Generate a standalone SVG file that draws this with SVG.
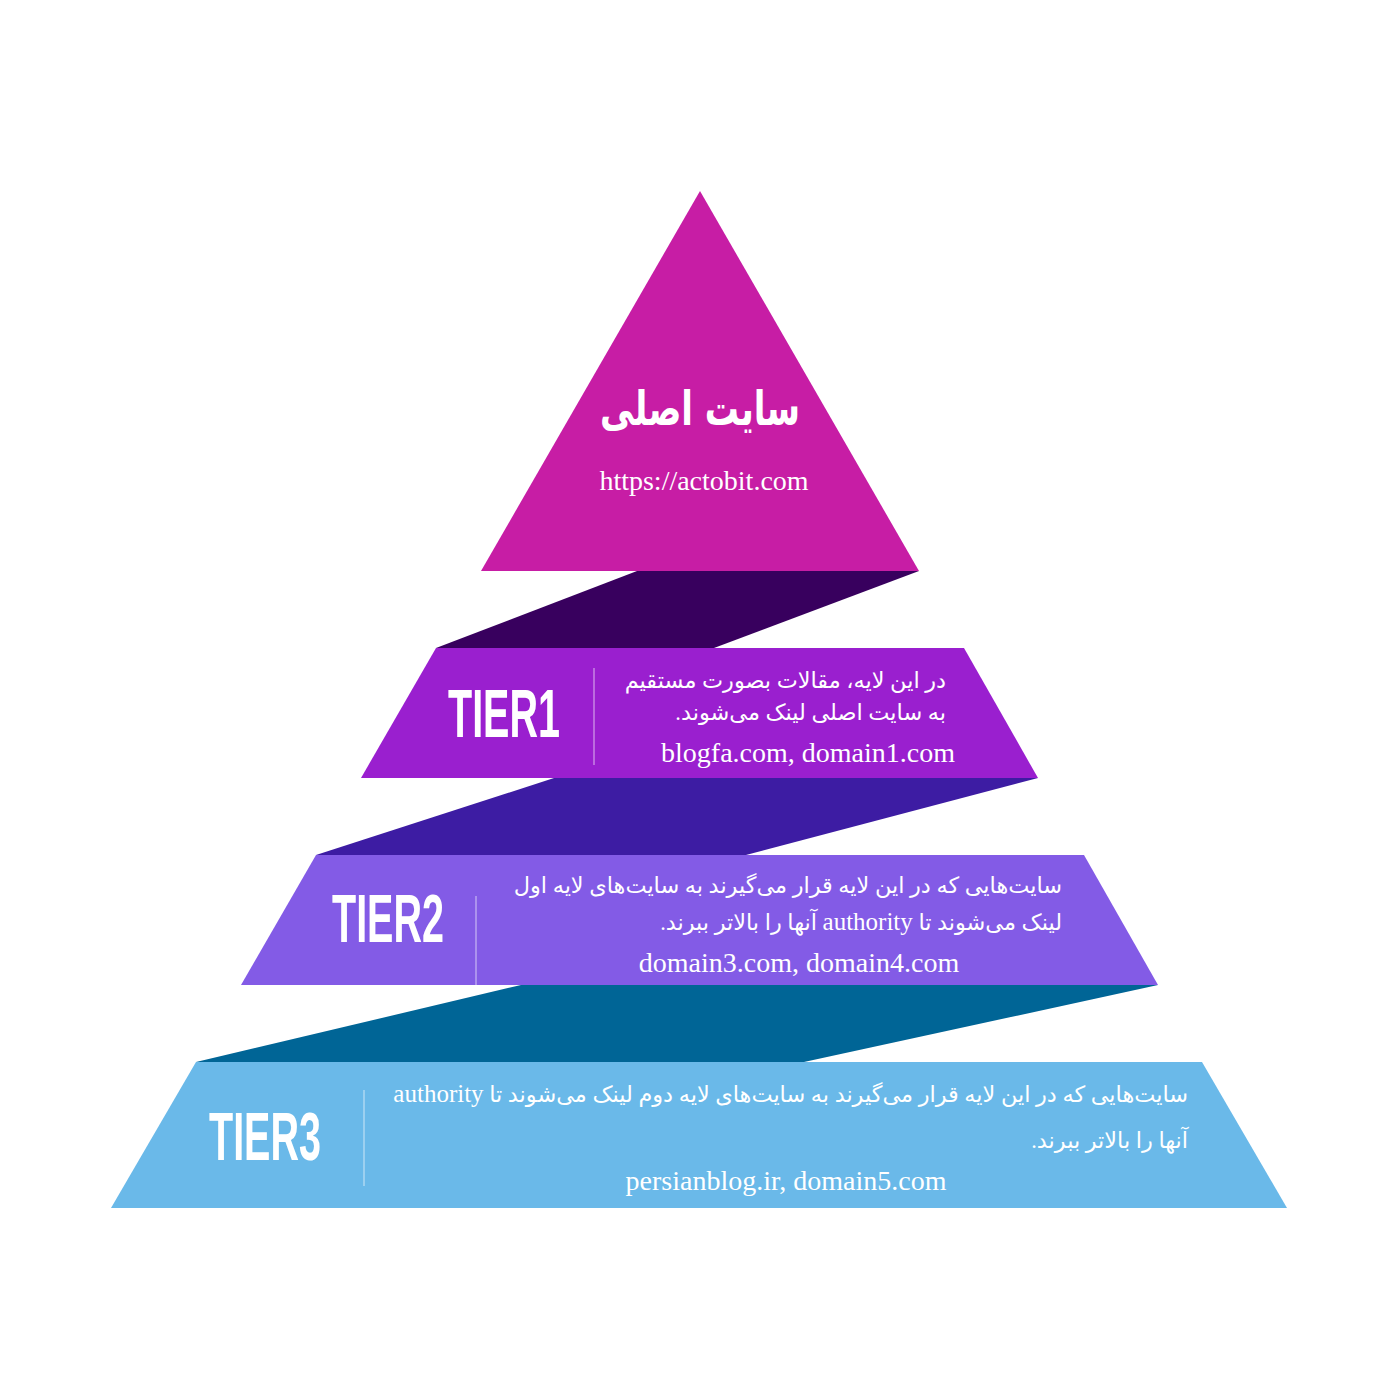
<svg xmlns="http://www.w3.org/2000/svg" width="1400" height="1400" viewBox="0 0 1400 1400">
<style>
.tier{font-family:"Liberation Sans",Arial,sans-serif;font-weight:bold;font-size:68px;fill:#fff}
.fa{font-family:"Liberation Serif","DejaVu Sans",serif;font-size:22.4px;fill:#fff;direction:rtl;unicode-bidi:embed;text-anchor:start}
.en{font-size:25px}
.url{font-family:"Liberation Serif","Times New Roman",serif;font-size:28px;fill:#fff;text-anchor:middle}
.div{stroke:#fff;stroke-opacity:0.45;stroke-width:1.5}
</style>
<rect width="1400" height="1400" fill="#fff"/>
<g id="connectors">
<polygon points="637,571 919,571 714,648 436,648" fill="#38005E"/>
<polygon points="554,778 1038,778 746,855 316,855" fill="#3D1CA3"/>
<polygon points="521,985 1158,985 804,1062 196,1062" fill="#006596"/>
</g>
<g id="main">
<polygon points="700,191 919,571 481,571" fill="#C71DA5"/>
<text x="800" y="425" textLength="200" lengthAdjust="spacingAndGlyphs" style="font-family:'DejaVu Sans',sans-serif;font-weight:bold;font-size:48px;fill:#fff;text-anchor:start;direction:rtl;unicode-bidi:embed">سایت اصلی</text>
<text class="url" x="704" y="490">https://actobit.com</text>
</g>
<g id="tier1">
<polygon points="436,648 964,648 1038,778 361,778" fill="#9A1FCF"/>
<text class="tier" x="448" y="737" textLength="112" lengthAdjust="spacingAndGlyphs">TIER1</text>
<line class="div" x1="594" y1="668" x2="594" y2="765"/>
<text class="fa" x="946" y="688">در این لایه، مقالات بصورت مستقیم</text>
<text class="fa" x="946" y="720">به سایت اصلی لینک می‌شوند.</text>
<text class="url" x="808" y="762">blogfa.com, domain1.com</text>
</g>
<g id="tier2">
<polygon points="316,855 1084,855 1158,985 241,985" fill="#835BE6"/>
<text class="tier" x="332" y="942" textLength="112" lengthAdjust="spacingAndGlyphs">TIER2</text>
<line class="div" x1="476" y1="896" x2="476" y2="985"/>
<text class="fa" x="1062" y="893">سایت‌هایی که در این لایه قرار می‌گیرند به سایت‌های لایه اول</text>
<text class="fa" x="1062" y="930">لینک می‌شوند تا <tspan class="en">authority</tspan> آنها را بالاتر ببرند.</text>
<text class="url" x="799" y="972">domain3.com, domain4.com</text>
</g>
<g id="tier3">
<polygon points="196,1062 1202,1062 1287,1208 111,1208" fill="#6AB9E9"/>
<text class="tier" x="209" y="1160" textLength="112" lengthAdjust="spacingAndGlyphs">TIER3</text>
<line class="div" x1="364" y1="1090" x2="364" y2="1186"/>
<text class="fa" x="1188" y="1102">سایت‌هایی که در این لایه قرار می‌گیرند به سایت‌های لایه دوم لینک می‌شوند تا <tspan class="en">authority</tspan></text>
<text class="fa" x="1188" y="1148">آنها را بالاتر ببرند.</text>
<text class="url" x="786" y="1190">persianblog.ir, domain5.com</text>
</g>
</svg>
